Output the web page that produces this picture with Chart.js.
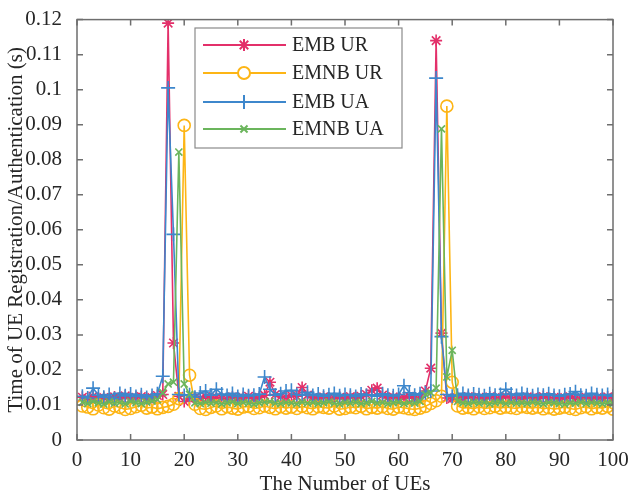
<!DOCTYPE html>
<html>
<head>
<meta charset="utf-8">
<script src="https://cdn.jsdelivr.net/npm/chart.js@4/dist/chart.umd.min.js"></script>
<style>
html,body{margin:0;padding:0;background:#fff;}
#wrap{width:630px;height:497px;position:relative;}
</style>
</head>
<body>
<div id="wrap"><canvas id="c" width="630" height="497"></canvas></div>
<script>
const numUEs = Array.from({length: 100}, (_, i) => i + 1);
const xTickLabels = ['0','10','20','30','40','50','60','70','80','90','100'];
const yTickLabels = ['0','0.01','0.02','0.03','0.04','0.05','0.06','0.07','0.08','0.09','0.1','0.11','0.12'];
const seriesNames = ['EMB UR','EMNB UR','EMB UA','EMNB UA'];

const embUR = [
 0.0122,0.0118,0.0125,0.0119,0.0121,0.0117,0.0123,0.0120,0.0126,0.0118,
 0.0122,0.0124,0.0119,0.0121,0.0127,0.0130,0.1190,0.0277,0.0125,0.0110,
 0.0118,0.0121,0.0119,0.0124,0.0118,0.0122,0.0120,0.0117,0.0123,0.0119,
 0.0121,0.0125,0.0118,0.0122,0.0128,0.0165,0.0130,0.0124,0.0122,0.0127,
 0.0125,0.0150,0.0128,0.0121,0.0118,0.0123,0.0120,0.0119,0.0122,0.0117,
 0.0124,0.0121,0.0125,0.0130,0.0142,0.0148,0.0128,0.0120,0.0123,0.0118,
 0.0121,0.0125,0.0119,0.0122,0.0140,0.0205,0.1140,0.0305,0.0120,0.0118,
 0.0121,0.0119,0.0124,0.0120,0.0122,0.0118,0.0123,0.0121,0.0119,0.0125,
 0.0122,0.0120,0.0118,0.0123,0.0121,0.0119,0.0124,0.0120,0.0122,0.0118,
 0.0121,0.0123,0.0119,0.0120,0.0122,0.0118,0.0121,0.0119,0.0123,0.0120
];
const emnbUR = [
 0.0097,0.0094,0.0089,0.0100,0.0092,0.0088,0.0097,0.0093,0.0087,0.0090,
 0.0095,0.0099,0.0091,0.0094,0.0089,0.0093,0.0096,0.0102,0.0118,0.0898,
 0.0185,0.0102,0.0090,0.0087,0.0093,0.0097,0.0089,0.0095,0.0091,0.0088,
 0.0094,0.0096,0.0090,0.0092,0.0097,0.0093,0.0089,0.0095,0.0091,0.0094,
 0.0090,0.0096,0.0092,0.0089,0.0095,0.0093,0.0091,0.0097,0.0088,0.0090,
 0.0094,0.0092,0.0096,0.0089,0.0093,0.0091,0.0095,0.0090,0.0088,0.0094,
 0.0092,0.0089,0.0087,0.0091,0.0096,0.0104,0.0112,0.0125,0.0953,0.0165,
 0.0097,0.0091,0.0093,0.0089,0.0095,0.0090,0.0092,0.0096,0.0091,0.0094,
 0.0092,0.0090,0.0095,0.0093,0.0091,0.0094,0.0089,0.0092,0.0088,0.0091,
 0.0094,0.0090,0.0087,0.0092,0.0095,0.0089,0.0093,0.0091,0.0096,0.0088
];
const embUA = [
 0.0125,0.0120,0.0148,0.0128,0.0122,0.0130,0.0118,0.0133,0.0126,0.0131,
 0.0124,0.0129,0.0121,0.0127,0.0132,0.0182,0.1005,0.0587,0.0130,0.0127,
 0.0129,0.0122,0.0134,0.0140,0.0128,0.0145,0.0131,0.0127,0.0133,0.0124,
 0.0130,0.0126,0.0128,0.0131,0.0180,0.0145,0.0128,0.0132,0.0140,0.0142,
 0.0130,0.0128,0.0136,0.0127,0.0131,0.0125,0.0129,0.0133,0.0126,0.0130,
 0.0128,0.0124,0.0131,0.0127,0.0129,0.0125,0.0132,0.0128,0.0126,0.0130,
 0.0155,0.0135,0.0128,0.0132,0.0135,0.0140,0.1033,0.0295,0.0130,0.0125,
 0.0128,0.0133,0.0127,0.0131,0.0129,0.0126,0.0132,0.0128,0.0130,0.0145,
 0.0131,0.0127,0.0133,0.0129,0.0126,0.0130,0.0128,0.0132,0.0127,0.0125,
 0.0129,0.0131,0.0138,0.0128,0.0126,0.0133,0.0129,0.0127,0.0130,0.0125
];
const emnbUA = [
 0.0108,0.0104,0.0110,0.0106,0.0102,0.0109,0.0105,0.0107,0.0103,0.0110,
 0.0106,0.0104,0.0108,0.0111,0.0115,0.0135,0.0160,0.0165,0.0822,0.0160,
 0.0130,0.0106,0.0104,0.0108,0.0105,0.0107,0.0103,0.0106,0.0109,0.0104,
 0.0107,0.0105,0.0102,0.0106,0.0108,0.0110,0.0105,0.0104,0.0107,0.0106,
 0.0103,0.0108,0.0105,0.0107,0.0104,0.0106,0.0109,0.0105,0.0103,0.0107,
 0.0105,0.0108,0.0104,0.0106,0.0110,0.0105,0.0107,0.0103,0.0106,0.0108,
 0.0104,0.0107,0.0105,0.0110,0.0130,0.0135,0.0148,0.0888,0.0180,0.0256,
 0.0110,0.0106,0.0104,0.0108,0.0105,0.0107,0.0103,0.0106,0.0108,0.0104,
 0.0107,0.0105,0.0106,0.0104,0.0108,0.0105,0.0103,0.0107,0.0106,0.0104,
 0.0102,0.0106,0.0105,0.0108,0.0104,0.0107,0.0105,0.0103,0.0106,0.0104
];

const colors = ['#e3306a','#fdb515','#3d87cc','#6bb55c'];
const styles = ['star','circle','cross','crossRot'];
const radii = [6,6,7,5];
const seriesData = [embUR, emnbUR, embUA, emnbUA];
const drawOrder = [3,2,1,0];

const FONT = '"Liberation Serif", "DejaVu Serif", serif';
const AXIS = '#6e6e6e';
const TEXT = '#262626';

const frameTicks = {
  id: 'frameTicks',
  afterDatasetsDraw(chart) {
    const {ctx, chartArea: a, scales} = chart;
    ctx.save();
    ctx.strokeStyle = AXIS;
    ctx.lineWidth = 1.5;
    ctx.strokeRect(a.left, a.top, a.right - a.left, a.bottom - a.top);
    const L = 6;
    ctx.beginPath();
    scales.x.ticks.forEach(t => {
      const px = scales.x.getPixelForValue(t.value);
      ctx.moveTo(px, a.bottom); ctx.lineTo(px, a.bottom - L);
      ctx.moveTo(px, a.top); ctx.lineTo(px, a.top + L);
    });
    scales.y.ticks.forEach(t => {
      const py = scales.y.getPixelForValue(t.value);
      ctx.moveTo(a.left, py); ctx.lineTo(a.left + L, py);
      ctx.moveTo(a.right, py); ctx.lineTo(a.right - L, py);
    });
    ctx.stroke();
    ctx.restore();
  },
  afterDraw(chart) {
    const {ctx} = chart;
    const bx = 195, by = 28, bw = 207, bh = 120;
    ctx.save();
    ctx.fillStyle = '#fff';
    ctx.fillRect(bx, by, bw, bh);
    ctx.strokeStyle = '#8a8a8a';
    ctx.lineWidth = 1.2;
    ctx.strokeRect(bx, by, bw, bh);
    const rows = [45, 73, 102, 129];
    chart.data.datasets.forEach((ds, i) => {
      const y = rows[i];
      ctx.strokeStyle = ds.borderColor;
      ctx.lineWidth = 2;
      ctx.beginPath(); ctx.moveTo(203, y); ctx.lineTo(286, y); ctx.stroke();
      ctx.fillStyle = '#fff';
      ctx.lineWidth = 2;
      Chart.helpers.drawPoint(ctx, {pointStyle: ds.pointStyle, radius: ds.pointRadius, borderWidth: 2, rotation: 0}, 244, y);
      ctx.fillStyle = TEXT;
      ctx.font = '20px ' + FONT;
      ctx.textBaseline = 'middle';
      ctx.fillText(ds.label, 292, y + 1);
    });
    ctx.restore();
  }
};

const datasets = seriesNames.map((name, i) => ({
  label: name,
  data: seriesData[i].map((v, j) => ({x: numUEs[j], y: v})),
  borderColor: colors[i],
  backgroundColor: 'rgba(0,0,0,0)',
  pointBorderColor: colors[i],
  pointBackgroundColor: 'rgba(0,0,0,0)',
  pointStyle: styles[i],
  pointRadius: radii[i],
  pointBorderWidth: 1.6,
  borderWidth: 1.6,
  tension: 0,
  order: drawOrder[i]
}));

new Chart(document.getElementById('c'), {
  type: 'line',
  data: {datasets},
  options: {
    responsive: false,
    animation: false,
    devicePixelRatio: 1,
    layout: {padding: {left: 0, right: 17, top: 16, bottom: 0}},
    plugins: {legend: {display: false}, tooltip: {enabled: false}},
    scales: {
      x: {
        type: 'linear', min: 0, max: 100,
        afterFit(s) { s.height = 57; },
        afterBuildTicks(s) { s.ticks = xTickLabels.map(l => ({value: Number(l)})); },
        grid: {display: false},
        border: {display: false},
        ticks: {
          callback: (v, i) => xTickLabels[i],
          font: {family: FONT, size: 21}, color: TEXT, padding: 0, maxRotation: 0
        },
        title: {display: true, text: 'The Number of UEs', font: {family: FONT, size: 21}, color: TEXT, padding: {top: 0, bottom: 0}}
      },
      y: {
        type: 'linear', min: 0, max: 0.12,
        afterFit(s) { s.width = 77; },
        afterBuildTicks(s) { s.ticks = yTickLabels.map(l => ({value: Number(l)})); },
        grid: {display: false},
        border: {display: false},
        ticks: {
          callback: (v, i) => yTickLabels[i],
          font: {family: FONT, size: 21}, color: TEXT, padding: 7
        },
        title: {display: true, text: 'Time of UE Registration/Authentication (s)', font: {family: FONT, size: 21}, color: TEXT, padding: {top: 4, bottom: 0}}
      }
    }
  },
  plugins: [frameTicks]
});
</script>
</body>
</html>
